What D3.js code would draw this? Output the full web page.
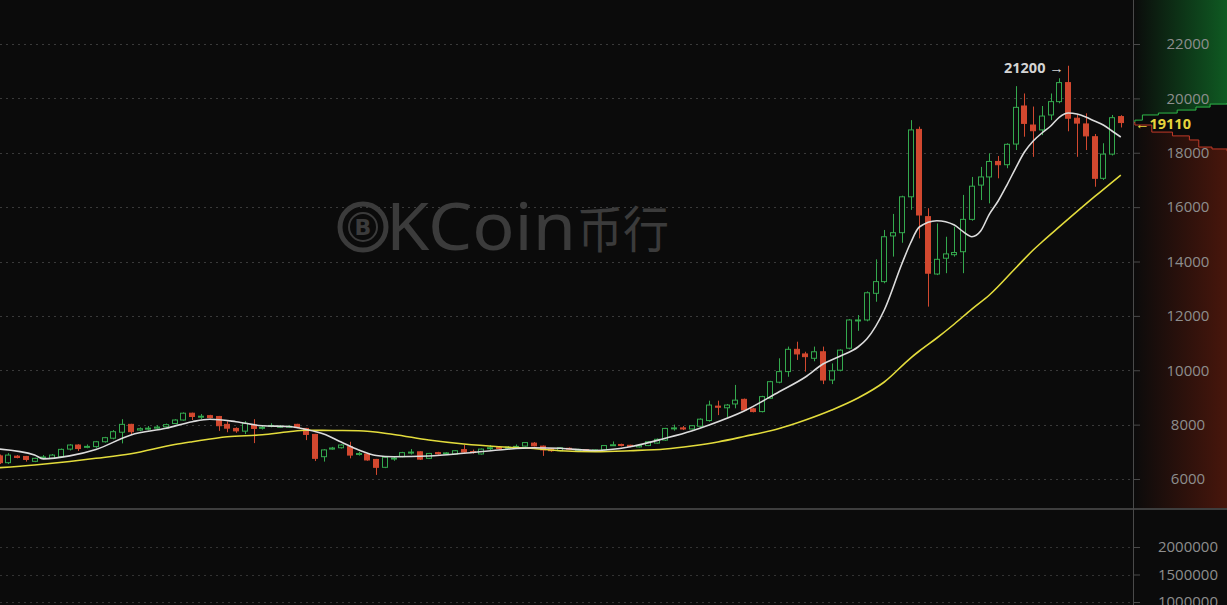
<!DOCTYPE html>
<html><head><meta charset="utf-8">
<script src="https://cdn.jsdelivr.net/npm/d3@7"></script>
<style>html,body{margin:0;padding:0;background:#0b0b0b;overflow:hidden}</style>
</head><body>
<svg id="c" width="1227" height="605"></svg>
<script>
// ---------- data ----------
const opens = [6850,6600,6840,6830,6650,6780,6760,6820,7100,7250,7170,7190,7370,7500,7720,8010,7800,7840,7870,7920,8040,8170,8420,8280,8330,8300,8010,7860,7760,7990,7880,7940,7910,7920,8010,7860,7640,6820,7100,7150,7190,6900,6920,6720,6430,6740,6820,6960,7000,6760,6970,6930,6920,7080,7010,6920,7120,7160,7130,7170,7210,7320,7210,7110,7040,7130,7070,7080,7060,7070,7230,7270,7240,7180,7230,7320,7430,7850,7880,7840,7940,8150,8680,8620,8760,8930,8580,8480,8970,9560,9950,10770,10600,10440,10680,9640,10000,10810,11820,11850,12830,13260,14940,15060,16380,18860,15650,13540,14120,14250,14360,15550,16810,17110,17680,17560,18320,19720,19020,18840,19390,19880,20580,19270,19060,18590,17060,17950,19330];
const highs = [6900,6950,6880,6850,6780,6880,6920,7120,7280,7280,7270,7400,7550,7800,8200,8030,7900,7950,7980,8040,8200,8450,8440,8390,8360,8320,8120,7900,8130,8200,7950,8050,7980,7980,8030,7880,7660,7100,7180,7280,7370,7000,6950,6740,6830,6820,7000,7100,7020,6960,7000,6990,7060,7250,7080,7120,7250,7180,7210,7270,7360,7360,7230,7140,7170,7160,7110,7100,7090,7250,7380,7300,7260,7250,7390,7490,7880,8000,7950,7980,8230,8880,8880,8760,9460,8960,8620,9060,9610,10440,10870,11050,10680,10870,10870,10250,10770,11880,12030,12900,14080,15160,15750,16420,19200,18960,15960,15400,14910,15280,16450,17110,17480,17980,17880,18350,20450,20180,19700,19720,20180,20740,21200,19390,19450,18690,18350,19390,19380];
const lows = [6550,6550,6760,6640,6620,6740,6740,6800,7050,7030,7130,7150,7340,7460,7310,7640,7760,7790,7840,7890,8020,8150,8170,8200,8230,7770,7720,7700,7650,7320,7820,7900,7880,7890,7870,7430,6660,6640,7080,7120,6760,6860,6670,6150,6400,6670,6800,6900,6700,6740,6900,6900,6900,6950,6930,6900,7060,7080,7100,7130,7190,7200,6850,7000,7020,7070,7040,7040,7040,7050,7220,7200,7170,7160,7210,7300,7400,7780,7800,7820,7900,8110,8350,8280,8600,8500,8450,8450,8950,9520,9760,10380,9950,10330,9490,9490,9960,10770,11450,11800,12520,13200,14180,14690,15900,14850,12340,13500,13570,14180,13570,15500,16260,16140,17060,17430,18100,18590,17850,18650,19200,19820,18790,17850,18100,16750,17000,17900,18930];
const closes = [6600,6880,6790,6720,6760,6810,6880,7090,7250,7120,7200,7370,7520,7740,8010,7740,7850,7870,7910,8000,8170,8420,8300,8310,8260,7960,7870,7770,8050,7860,7900,7970,7940,7940,7890,7640,6760,7070,7140,7250,6880,6940,6700,6430,6800,6770,6970,6990,6730,6940,6930,6960,7040,6990,6990,7100,7150,7130,7170,7200,7340,7220,7070,7040,7150,7100,7090,7070,7070,7230,7260,7240,7200,7230,7370,7460,7860,7880,7840,7960,8200,8720,8640,8720,8900,8540,8480,9030,9580,9950,10770,10600,10500,10680,9640,9980,10740,11850,11850,12850,13260,14910,15060,16380,18840,15710,13570,14080,14280,14330,15550,16770,17110,17680,17560,18310,19670,19080,18810,19350,19880,20580,19270,19090,18620,17060,17950,19290,19110];

// moving averages (candle index, price)
const maShortIdx = [0,4,5,8,11,15,19,22,24,27,30,33,35,37,39,41,43,45,49,53,57,61,64,68,72,76,79,81,85,89,92,94,96,98,99,101,103,104,105,107,109,110,111,112,113,114,115,116,117,118,119,120,121,122,123,124,125,126,127,128];
const maShortVal = [7100,6880,6740,6850,7085,7620,7865,8108,8196,8108,7960,7931,7821,7655,7361,7067,6864,6820,6846,6945,7067,7151,7129,7048,7188,7497,7765,7986,8501,9211,9752,10230,10524,10855,11149,12216,13908,14680,15269,15500,15342,15096,14912,15121,15746,16225,16813,17438,18027,18432,18726,18983,19314,19461,19424,19314,19167,19020,18800,18579];
const maLongIdx = [0,4,8,11,15,20,22,26,30,33,35,38,41,45,49,53,57,61,64,68,72,76,79,82,85,89,92,95,98,101,104,105,107,109,111,113,116,118,119,121,125,128];
const maLongVal = [6416,6515,6644,6761,6930,7269,7372,7556,7626,7740,7795,7784,7776,7637,7434,7287,7188,7122,7041,7004,7041,7103,7214,7361,7563,7857,8170,8538,8979,9568,10450,10708,11186,11701,12252,12767,13760,14422,14717,15280,16383,17181];

// order book depth (cumulative share of depth, price)
const askCum = [0,2,10,27,47,67,82,100];
const askPrice = [19110,19200,19390,19460,19570,19680,19790,19830];
const bidCum = [0,2,20,42,60,70,84,100];
const bidPrice = [19110,19020,18760,18620,18470,18210,18140,18060];

const priceTicks = [6000,8000,10000,12000,14000,16000,18000,20000,22000];
const volTicks = [1000000,1500000,2000000];
const highLabel = 21200, lastPrice = 19110;

// ---------- drawing ----------
const W = 1227, H = 605, AX = 1133, PANE = 509;
const svg = d3.select("#c");
const bg = "#0b0b0b";
const green = "#34a94e", red = "#d2482f";

const x = d3.scaleLinear().domain([0, 128]).range([-0.46, 1120.8]);
const y = d3.scaleLinear().domain([6000, 22000]).range([479, 44]);
const yv = d3.scaleLinear().domain([1000000, 2000000]).range([602, 547]);
const xd = d3.scaleLinear().domain([0, 100]).range([AX, W]);

svg.append("rect").attr("width", W).attr("height", H).attr("fill", bg);

const defs = svg.append("defs");
const gG = defs.append("linearGradient").attr("id", "gg").attr("x1", 0).attr("x2", 1).attr("y1", 0).attr("y2", 0);
gG.append("stop").attr("offset", 0).attr("stop-color", "#0b0b0b");
gG.append("stop").attr("offset", 1).attr("stop-color", "#0f5a22");
const gR = defs.append("linearGradient").attr("id", "gr").attr("x1", 0).attr("x2", 1).attr("y1", 0).attr("y2", 0);
gR.append("stop").attr("offset", 0).attr("stop-color", "#0b0b0b");
gR.append("stop").attr("offset", 1).attr("stop-color", "#48160c");
defs.append("clipPath").attr("id", "cp").append("rect").attr("x", 0).attr("y", 0).attr("width", AX).attr("height", PANE);

// depth areas
const asks = askCum.map((c, i) => ({c, p: askPrice[i]}));
const bids = bidCum.map((c, i) => ({c, p: bidPrice[i]}));
svg.append("path").datum(asks)
  .attr("d", d3.area().x(d => xd(d.c)).y0(0).y1(d => y(d.p)).curve(d3.curveStepAfter))
  .attr("fill", "url(#gg)");
svg.append("path").datum(bids)
  .attr("d", d3.area().x(d => xd(d.c)).y0(PANE).y1(d => y(d.p)).curve(d3.curveStepAfter))
  .attr("fill", "url(#gr)");
svg.append("path").datum(asks)
  .attr("d", d3.line().x(d => xd(d.c)).y(d => y(d.p)).curve(d3.curveStepAfter))
  .attr("fill", "none").attr("stroke", "#2fb84a").attr("stroke-width", 1);
svg.append("path").datum(bids)
  .attr("d", d3.line().x(d => xd(d.c)).y(d => y(d.p)).curve(d3.curveStepAfter))
  .attr("fill", "none").attr("stroke", "#c23a28").attr("stroke-width", 1);

// grid lines
svg.append("g").selectAll("line").data(priceTicks).join("line")
  .attr("x1", 0).attr("x2", AX).attr("y1", d => Math.round(y(d)) + 0.5).attr("y2", d => Math.round(y(d)) + 0.5)
  .attr("stroke", "#3a3a3a").attr("stroke-dasharray", "2,4");
svg.append("g").selectAll("line").data(volTicks).join("line")
  .attr("x1", 0).attr("x2", AX).attr("y1", d => Math.round(yv(d)) + 0.5).attr("y2", d => Math.round(yv(d)) + 0.5)
  .attr("stroke", "#333").attr("stroke-dasharray", "2,4");

// watermark
const wm = svg.append("g").attr("fill", "#3b3b3b");
wm.append("circle").attr("cx", 363).attr("cy", 227).attr("r", 23).attr("fill", "none").attr("stroke", "#3b3b3b").attr("stroke-width", 5);
wm.append("circle").attr("cx", 363).attr("cy", 227).attr("r", 14).attr("fill", "none").attr("stroke", "#3b3b3b").attr("stroke-width", 2);
wm.append("text").attr("x", 363).attr("y", 235).attr("text-anchor", "middle")
  .attr("font-family", "DejaVu Sans").attr("font-weight", "bold").attr("font-size", 22).text("B");
wm.append("text").attr("x", 386).attr("y", 250).attr("font-family", "Noto Sans").attr("font-size", 66)
  .attr("textLength", 190).attr("lengthAdjust", "spacingAndGlyphs").text("KCoin");
wm.append("text").attr("x", 577).attr("y", 248).attr("font-family", "Noto Sans CJK SC").attr("font-size", 50)
  .attr("textLength", 92).attr("lengthAdjust", "spacingAndGlyphs").text("币行");

// candles
const data = opens.map((o, i) => ({i, o, h: highs[i], l: lows[i], c: closes[i]}));
const cg = svg.append("g").attr("clip-path", "url(#cp)");
const bw = 6;
const cand = cg.selectAll("g").data(data).join("g");
cand.append("line")
  .attr("x1", d => Math.round(x(d.i)) + 0.5).attr("x2", d => Math.round(x(d.i)) + 0.5)
  .attr("y1", d => y(d.h)).attr("y2", d => y(d.l))
  .attr("stroke", d => d.c >= d.o ? green : red).attr("stroke-width", 1);
cand.append("rect")
  .attr("x", d => Math.round(x(d.i)) - bw / 2 + 0.5)
  .attr("width", bw - 1)
  .attr("y", d => y(Math.max(d.o, d.c)))
  .attr("height", d => Math.max(1, Math.abs(y(d.o) - y(d.c))))
  .attr("fill", d => d.c >= d.o ? bg : red)
  .attr("stroke", d => d.c >= d.o ? green : red).attr("stroke-width", 1);

// moving averages
cg.append("path").datum(maLongIdx.map((k, i) => [k, maLongVal[i]]))
  .attr("d", d3.line().x(d => x(d[0])).y(d => y(d[1])).curve(d3.curveMonotoneX))
  .attr("fill", "none").attr("stroke", "#e3dc3c").attr("stroke-width", 1.6);
cg.append("path").datum(maShortIdx.map((k, i) => [k, maShortVal[i]]))
  .attr("d", d3.line().x(d => x(d[0])).y(d => y(d[1])).curve(d3.curveMonotoneX))
  .attr("fill", "none").attr("stroke", "#dcdcdc").attr("stroke-width", 1.6);

// pane divider and axis line
svg.append("line").attr("x1", 0).attr("x2", W).attr("y1", PANE).attr("y2", PANE).attr("stroke", "#3e3e3e").attr("stroke-width", 2);
svg.append("line").attr("x1", AX + 0.5).attr("x2", AX + 0.5).attr("y1", 0).attr("y2", H).attr("stroke", "#4a4a4a").attr("stroke-width", 1);

// axes
const ax1 = svg.append("g").attr("transform", `translate(${AX},0)`)
  .call(d3.axisRight(y).tickValues(priceTicks).tickSize(7).tickFormat(d3.format("d")));
const ax2 = svg.append("g").attr("transform", `translate(${AX},0)`)
  .call(d3.axisRight(yv).tickValues(volTicks).tickSize(7).tickFormat(d3.format("d")));
[ax1, ax2].forEach(a => {
  a.select(".domain").remove();
  a.selectAll(".tick line").attr("stroke", "#4a4a4a");
  a.selectAll(".tick text").attr("x", 55).attr("text-anchor", "middle")
    .attr("fill", "#8e8e8e").attr("font-family", "Open Sans").attr("font-size", 15);
});

// labels
svg.append("text").attr("x", 1004).attr("y", 73).attr("fill", "#d4d4d4")
  .attr("font-family", "Open Sans").attr("font-weight", "bold").attr("font-size", 14.5)
  .text(highLabel + " \u2192");
svg.append("text").attr("x", 1135).attr("y", y(lastPrice) + 6).attr("fill", "#e6d43c")
  .attr("font-family", "Open Sans").attr("font-weight", "bold").attr("font-size", 14.5)
  .text("\u2190" + lastPrice);
</script>
</body></html>
